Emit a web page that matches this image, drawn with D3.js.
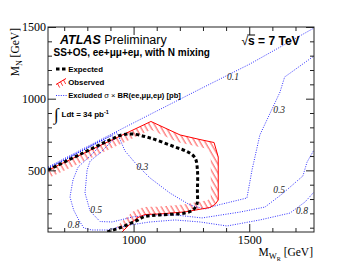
<!DOCTYPE html>
<html><head><meta charset="utf-8">
<script src="https://cdn.jsdelivr.net/npm/d3@7"></script>
<style>body{margin:0;background:#fff}svg{display:block}</style>
</head><body>
<svg id="c" width="349" height="270"></svg>
<script>
// ---- data (M_WR, M_N in GeV) ----
const xMajorTicks = [1000, 1500];
const xMinorTicks = [700, 800, 900, 1100, 1200, 1300, 1400, 1600, 1700];
const yMajorTicks = [500, 1000, 1500];
const yMinorTicks = [100, 200, 300, 400, 600, 700, 800, 900, 1100, 1200, 1300, 1400];

const observed = [[630,502],[855,673],[1075,841],[1201,747],[1287,715],[1348,694],[1366,593],[1366,293],[1352,262],[1330,241],[1222,210],[1114,196],[1049,192],[1015,168],[976,112],[950,70]];
const expected = [[630,502],[768,611],[898,712],[950,747],[993,754],[1071,726],[1179,663],[1235,628],[1266,586],[1276,502],[1276,363],[1274,265],[1257,224],[1222,203],[1114,189],[1049,178],[1010,147],[950,105],[885,70]];

const contour01 = [[630,523],[855,712],[1071,890],[1287,1067],[1503,1242],[1780,1493]];
const contour03 = [[630,512],[855,703],[928,764],[946,698],[963,635],[1015,537],[1071,447],[1157,342],[1244,258],[1309,230],[1365,258],[1490,307],[1512,502],[1546,747],[1633,1046],[1653,1151],[1780,1298]];
const contour05 = [[630,514],[855,705],[907,743],[911,712],[855,621],[812,565],[799,502],[790,342],[812,216],[855,143],[907,140],[997,175],[1071,189],[1179,189],[1296,168],[1460,209],[1568,244],[1642,335],[1732,461],[1750,558],[1780,642]];
const contour08 = [[630,516],[855,701],[881,712],[812,600],[760,523],[738,433],[725,314],[741,223],[763,154],[785,98],[819,84],[885,84],[984,119],[1071,140],[1179,154],[1287,140],[1404,112],[1546,154],[1676,202],[1741,279],[1780,349]];

const labelText = ['0.1','0.3','0.3','0.5','0.5','0.8','0.8'];
const labelPos = [[1430,1151],[1629,921],[1038,523],[838,224],[1629,363],[740,119],[1728,216]];

// ---- layout ----
const L = 48, R = 314, T = 27, B = 232;
const x = d3.scaleLinear().domain([630, 1780]).range([L, R]);
const y = d3.scaleLinear().domain([70, 1500]).range([B, T]);
const svg = d3.select('#c');
const serif = 'Liberation Serif, Times New Roman, serif';
const sans = 'Liberation Sans, Arial, Helvetica, sans-serif';

const defs = svg.append('defs');
defs.append('clipPath').attr('id','plot').append('rect').attr('x',L).attr('y',T).attr('width',R-L).attr('height',B-T);
const pat = defs.append('pattern').attr('id','hatch').attr('patternUnits','userSpaceOnUse')
  .attr('width',4.4).attr('height',4.4).attr('patternTransform','rotate(-30)');
pat.append('line').attr('x1',1).attr('y1',-1).attr('x2',1).attr('y2',6).attr('stroke','#ff0000').attr('stroke-width',0.7);

const line = d3.line().x(d => x(d[0])).y(d => y(d[1]));
const smooth = d3.line().x(d => x(d[0])).y(d => y(d[1])).curve(d3.curveCatmullRom.alpha(0.5));

// observed hatch band (inside of the curve)
defs.append('clipPath').attr('id','obsIn').append('path').attr('d', line(observed.concat([[630,70]])) + 'Z');
defs.append('mask').attr('id','obsBand').append('path').attr('d', line(observed))
  .attr('fill','none').attr('stroke','#fff').attr('stroke-width',15).attr('stroke-linejoin','round');

const g = svg.append('g').attr('clip-path','url(#plot)');
g.append('g').attr('clip-path','url(#obsIn)').append('rect')
  .attr('x',L).attr('y',T).attr('width',R-L).attr('height',B-T)
  .attr('fill','url(#hatch)').attr('mask','url(#obsBand)');

// blue dotted contours
[contour01, contour03, contour05, contour08].forEach(c => {
  g.append('path').attr('d', line(c)).attr('fill','none').attr('stroke','#1a1aff')
    .attr('stroke-width',0.9).attr('stroke-dasharray','1 1.4');
});
// observed line
g.append('path').attr('d', line(observed)).attr('fill','none').attr('stroke','#ff0000').attr('stroke-width',1);
// expected
g.append('path').attr('d', smooth(expected)).attr('fill','none').attr('stroke','#000')
  .attr('stroke-width',3).attr('stroke-dasharray','3.5 2.5');

// contour labels
labelText.forEach((t,i) => {
  g.append('text').attr('x', x(labelPos[i][0])).attr('y', y(labelPos[i][1])).attr('dy','0.35em')
    .attr('text-anchor','middle').attr('font-family',serif).attr('font-style','italic')
    .attr('font-size',9.5).attr('fill','#222').text(t);
});

// ---- axes ----
function ax(gen, tr) {
  const a = svg.append('g').attr('transform', tr).call(gen);
  a.select('.domain').remove();
  a.selectAll('line').attr('stroke','#222');
  a.selectAll('text').attr('font-family',serif).attr('font-size',12).attr('fill','#000');
  return a;
}
ax(d3.axisBottom(x).tickValues(xMajorTicks).tickSize(-8).tickPadding(3).tickFormat(d3.format('d')), `translate(0,${B})`);
ax(d3.axisBottom(x).tickValues(xMinorTicks).tickSize(-4).tickFormat(''), `translate(0,${B})`);
ax(d3.axisTop(x).tickValues(xMajorTicks).tickSize(-8).tickFormat(''), `translate(0,${T})`);
ax(d3.axisTop(x).tickValues(xMinorTicks).tickSize(-4).tickFormat(''), `translate(0,${T})`);
ax(d3.axisLeft(y).tickValues(yMajorTicks).tickSize(-8).tickPadding(2).tickFormat(d3.format('d')), `translate(${L},0)`);
ax(d3.axisLeft(y).tickValues(yMinorTicks).tickSize(-4).tickFormat(''), `translate(${L},0)`);
ax(d3.axisRight(y).tickValues(yMajorTicks).tickSize(-8).tickFormat(''), `translate(${R},0)`);
ax(d3.axisRight(y).tickValues(yMinorTicks).tickSize(-4).tickFormat(''), `translate(${R},0)`);
svg.append('rect').attr('x',L).attr('y',T).attr('width',R-L).attr('height',B-T)
  .attr('fill','none').attr('stroke','#222').attr('stroke-width',1);

// axis titles
const xt = svg.append('text').attr('x',313).attr('y',255.5).attr('text-anchor','end')
  .attr('font-family',serif).attr('font-size',11.5);
xt.append('tspan').text('M');
xt.append('tspan').attr('dy',3).attr('font-size',8.5).text('W');
xt.append('tspan').attr('dy',2.5).attr('font-size',6).text('R');
xt.append('tspan').attr('dy',-5.5).attr('font-size',11.5).text(' [GeV]');

const yt = svg.append('text').attr('transform','translate(19,28) rotate(-90)').attr('text-anchor','end')
  .attr('font-family',serif).attr('font-size',11.5);
yt.append('tspan').text('M');
yt.append('tspan').attr('dy',3).attr('font-size',8).text('N');
yt.append('tspan').attr('dy',-3).attr('font-size',11.5).text(' [GeV]');

// ---- annotations ----
const at = svg.append('text').attr('x',60).attr('y',43.5).attr('font-family',sans).attr('font-size',12.5);
at.append('tspan').attr('font-weight','bold').attr('font-style','italic').text('ATLAS');
at.append('tspan').text(' Preliminary');

svg.append('text').attr('x',53.5).attr('y',56).attr('font-family',sans).attr('font-size',10)
  .attr('font-weight','bold').text('SS+OS, ee+\u03bc\u03bc+e\u03bc, with N mixing');

const st = svg.append('text').attr('x',241.5).attr('y',45).attr('font-family',sans).attr('font-size',12);
st.append('tspan').text('\u221a');
st.append('tspan').attr('font-weight','bold').text('s = 7 TeV');
const wr = st.node().getSubStringLength(0,1), ws = st.node().getSubStringLength(1,1);
svg.append('line').attr('x1',241.5+wr-0.8).attr('x2',241.5+wr+ws+0.3).attr('y1',35).attr('y2',35)
  .attr('stroke','#000').attr('stroke-width',1);

// legend
svg.append('line').attr('x1',56).attr('x2',66).attr('y1',69).attr('y2',69)
  .attr('stroke','#000').attr('stroke-width',3).attr('stroke-dasharray','3.5 2.5');
svg.append('text').attr('x',68.3).attr('y',71.5).attr('font-family',sans).attr('font-size',7.8)
  .attr('font-weight','bold').text('Expected');
const ls = svg.append('g').attr('stroke','#ff0000').attr('fill','none');
ls.append('line').attr('x1',56).attr('y1',84.5).attr('x2',66).attr('y2',78.5).attr('stroke-width',1);
[0,1,2].forEach(i => {
  const px = 57.5 + i*3, py = 83.6 - i*1.8;
  ls.append('line').attr('x1',px).attr('y1',py).attr('x2',px+2.2).attr('y2',py+4).attr('stroke-width',0.8);
});
svg.append('text').attr('x',68.3).attr('y',85).attr('font-family',sans).attr('font-size',7.8)
  .attr('font-weight','bold').text('Observed');
svg.append('line').attr('x1',56).attr('x2',67).attr('y1',95.5).attr('y2',95.5)
  .attr('stroke','#1a1aff').attr('stroke-width',0.9).attr('stroke-dasharray','1 1.4');
const ex = svg.append('text').attr('x',68.3).attr('y',97.5).attr('font-family',sans).attr('font-size',7.6).attr('font-weight','bold');
ex.append('tspan').text('Excluded ');
ex.append('tspan').attr('font-weight','normal').text('\u03c3 \u00d7 ');
ex.append('tspan').text('BR(ee,\u03bc\u03bc,e\u03bc) [pb]');

svg.append('text').attr('x',54).attr('y',119.5).attr('font-family',serif).attr('font-size',17).text('\u222b');
const lt = svg.append('text').attr('x',61.5).attr('y',117).attr('font-family',sans).attr('font-size',8).attr('font-weight','bold');
lt.append('tspan').text('Ldt = 34 pb');
lt.append('tspan').attr('dy',-3.5).attr('font-size',5.5).text('-1');
</script>
</body></html>
